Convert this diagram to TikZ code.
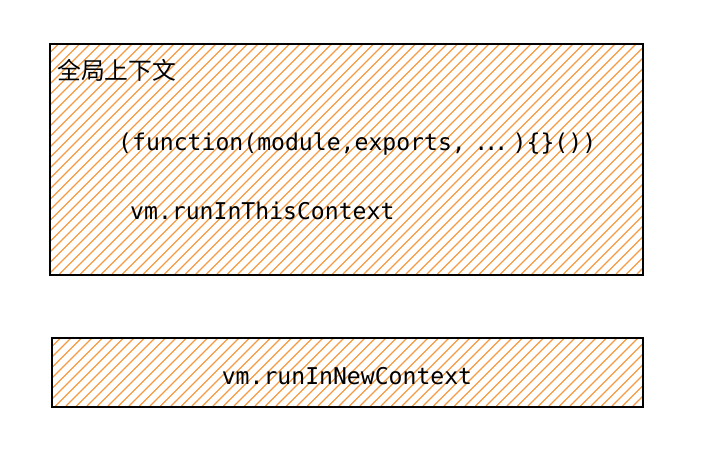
\documentclass[tikz,border=0pt]{standalone}
\usepackage{fontspec}
\setmonofont{DejaVu Sans Mono}
\newfontfamily\cjk{Noto Sans CJK SC}
\definecolor{hatch}{HTML}{F59A42}
\newcommand{\tightdots}{\makebox[33pt][l]{\kern-5.4pt.\kern-3.9pt.\kern-3.9pt.}}
\tikzset{
  ctxbox/.style={draw=black, line width=2pt, anchor=north west, inner sep=0pt},
  hatchline/.style={draw=hatch, line width=1.1pt},
  code/.style={font=\ttfamily\fontsize{23.1}{26}\selectfont, inner sep=0pt, anchor=west},
  cjklabel/.style={font=\cjk\fontsize{23.8}{26}\selectfont, inner sep=0pt, anchor=west}
}
\newcommand{\hatchbox}[4]{% x0 y0 x1 y1 (y1 bottom)
  \begin{scope}
    \clip (#1,#2) rectangle (#3,#4);
    \pgfmathsetmacro{\hh}{#4-#2}
    \foreach \k in {0,...,90} {
      \pgfmathsetmacro{\xs}{#1-\hh+\k*10.5}
      \draw[hatchline] (\xs,#4) -- ++(\hh,-\hh);
    }
  \end{scope}}
\begin{document}
\begin{tikzpicture}[x=1pt,y=-1pt]
\useasboundingbox (0,0) rectangle (705,464);
\hatchbox{49}{43}{642}{274}
\hatchbox{51}{337}{642}{406}
\node[ctxbox, minimum width=593pt, minimum height=231pt] (global) at (49,43) {};
\node[ctxbox, minimum width=591pt, minimum height=69pt] (newctx) at (51,337) {};
\node[cjklabel] (title) at (57,70) {全局上下文};
\node[code] (fn) at (118,144) {(function(module,exports,\ \tightdots)\{\}())};
\node[code] (this) at (130,211) {vm.runInThisContext};
\node[code, anchor=center] (new) at (347,376) {vm.runInNewContext};
\end{tikzpicture}
\end{document}
